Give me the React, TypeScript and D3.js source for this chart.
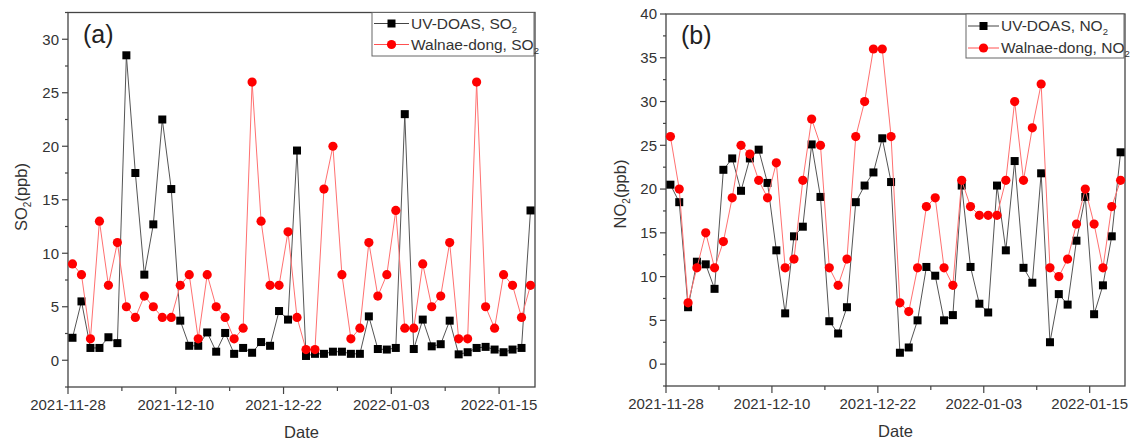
import React from "react";
import * as d3 from "d3";

// ---- Data ----
const startDate = new Date(2021, 10, 28);
const nDays = 52;
const dates: Date[] = Array.from({ length: nDays }, (_, i) => new Date(2021, 10, 28 + i, 12));

const so2UV = [
  2.1, 5.5, 1.15, 1.15, 2.15, 1.6, 28.5, 17.5, 8.0, 12.7, 22.5, 16.0, 3.7, 1.35, 1.35, 2.6, 0.8, 2.55, 0.6, 1.15,
  0.7, 1.7, 1.35, 4.6, 3.8, 19.6, 0.4, 0.6, 0.6, 0.8, 0.8, 0.6, 0.6, 4.1, 1.05, 1.0, 1.15, 23.0, 1.05, 3.8,
  1.3, 1.5, 3.7, 0.55, 0.75, 1.15, 1.25, 1.0, 0.75, 1.0, 1.15, 14.0,
];
const so2Walnae = [
  9, 8, 2, 13, 7, 11, 5, 4, 6, 5, 4, 4, 7, 8, 2, 8, 5, 4, 2, 3,
  26, 13, 7, 7, 12, 4, 1, 1, 16, 20, 8, 2, 3, 11, 6, 8, 14, 3, 3, 9,
  5, 6, 11, 2, 2, 26, 5, 3, 8, 7, 4, 7,
];
const no2UV = [
  20.5, 18.5, 6.5, 11.7, 11.4, 8.6, 22.2, 23.5, 19.8, 23.5, 24.5, 20.7, 13.0, 5.8, 14.6, 15.7, 25.1, 19.1, 4.9, 3.5,
  6.5, 18.5, 20.4, 21.9, 25.8, 20.8, 1.3, 1.9, 5.0, 11.1, 10.1, 5.0, 5.6, 20.4, 11.1, 6.9, 5.9, 20.4, 13.0, 23.2,
  11.0, 9.3, 21.8, 2.5, 8.0, 6.8, 14.1, 19.1, 5.7, 9.0, 14.6, 24.2,
];
const no2Walnae = [
  26, 20, 7, 11, 15, 11, 14, 19, 25, 24, 21, 19, 23, 11, 12, 21, 28, 25, 11, 9,
  12, 26, 30, 36, 36, 26, 7, 6, 11, 18, 19, 11, 9, 21, 18, 17, 17, 17, 21, 30,
  21, 27, 32, 11, 10, 12, 16, 20, 16, 11, 18, 21,
];

const xTickLabels = ["2021-11-28", "2021-12-10", "2021-12-22", "2022-01-03", "2022-01-15"];
const so2Ticks = [0, 5, 10, 15, 20, 25, 30];
const no2Ticks = [0, 5, 10, 15, 20, 25, 30, 35, 40];

const FONT = "'Liberation Sans', Arial, sans-serif";
const TXT = "#333";

type PanelProps = {
  left: number; right: number; top: number; bottom: number;
  yDomain: [number, number]; yTicks: number[];
  uv: number[]; wal: number[];
  species: string; tag: string;
  legendBox: { x0: number; x1: number; y0: number; y1: number; row1: number; row2: number; lineX0: number; lineX1: number; textX: number };
  yTitleX: number; yTitleY: number;
};

function Panel(p: PanelProps) {
  const parse = d3.timeParse("%Y-%m-%d");
  const x = d3.scaleTime().domain([startDate, new Date(2022, 0, 19)]).range([p.left, p.right]);
  const y = d3.scaleLinear().domain(p.yDomain).range([p.bottom, p.top]);
  const majorX = xTickLabels.map((s) => parse(s) as Date);
  const minorX = majorX.map((d) => d3.timeDay.offset(d, 6)).filter((d) => x(d) < p.right);
  const minorY: number[] = [];
  for (let v = p.yDomain[0]; v <= p.yDomain[1] + 1e-9; v += 2.5) {
    if (!p.yTicks.includes(v)) minorY.push(v);
  }
  const fmt = d3.timeFormat("%Y-%m-%d");
  const line = d3.line<number>().x((_, i) => x(dates[i])).y((v) => y(v));
  const lb = p.legendBox;
  const markerX = (lb.lineX0 + lb.lineX1) / 2;
  return (
    <g>
      {/* frame */}
      <rect x={p.left} y={p.top} width={p.right - p.left} height={p.bottom - p.top} fill="none" stroke="#444" strokeWidth={1.3} />
      {/* x ticks */}
      {majorX.map((d, i) => (
        <g key={"mx" + i}>
          <line x1={x(d)} x2={x(d)} y1={p.bottom} y2={p.bottom + 7} stroke="#444" strokeWidth={1.2} />
          <text x={x(d)} y={p.bottom + 23} textAnchor="middle" fontSize={15} fill={TXT} fontFamily={FONT}>{fmt(d)}</text>
        </g>
      ))}
      {minorX.map((d, i) => (
        <line key={"nx" + i} x1={x(d)} x2={x(d)} y1={p.bottom} y2={p.bottom + 4} stroke="#444" strokeWidth={1.2} />
      ))}
      {/* y ticks */}
      {p.yTicks.map((v) => (
        <g key={"my" + v}>
          <line x1={p.left - 6} x2={p.left} y1={y(v)} y2={y(v)} stroke="#444" strokeWidth={1.2} />
          <text x={p.left - 9} y={y(v)} dy="0.35em" textAnchor="end" fontSize={15} fill={TXT} fontFamily={FONT}>{v}</text>
        </g>
      ))}
      {minorY.map((v) => (
        <line key={"ny" + v} x1={p.left - 3} x2={p.left} y1={y(v)} y2={y(v)} stroke="#444" strokeWidth={1.2} />
      ))}
      {/* titles */}
      <text x={(p.left + p.right) / 2} y={p.bottom + 51} textAnchor="middle" fontSize={16.5} fill={TXT} fontFamily={FONT}>Date</text>
      <text transform={`translate(${p.yTitleX},${p.yTitleY}) rotate(-90)`} textAnchor="middle" fontSize={16.5} fill={TXT} fontFamily={FONT}>
        {p.species}<tspan fontSize={10} dy={4}>2</tspan><tspan dy={-4}>(ppb)</tspan>
      </text>
      <text x={p.left + 15} y={p.top + 30} fontSize={25} fill="#222" fontFamily={FONT}>{p.tag}</text>
      {/* series */}
      <path d={line(p.uv) || ""} fill="none" stroke="#555" strokeWidth={1} />
      {p.uv.map((v, i) => (
        <rect key={"u" + i} x={x(dates[i]) - 4} y={y(v) - 4} width={8} height={8} fill="#000" />
      ))}
      <path d={line(p.wal) || ""} fill="none" stroke="#ff7070" strokeWidth={1} />
      {p.wal.map((v, i) => (
        <circle key={"w" + i} cx={x(dates[i])} cy={y(v)} r={4.6} fill="#f00" />
      ))}
      {/* legend */}
      <rect x={lb.x0} y={lb.y0} width={lb.x1 - lb.x0} height={lb.y1 - lb.y0} fill="#fff" stroke="#666" strokeWidth={1} />
      <line x1={lb.lineX0} x2={lb.lineX1} y1={lb.row1} y2={lb.row1} stroke="#444" strokeWidth={1} />
      <rect x={markerX - 4} y={lb.row1 - 4} width={8} height={8} fill="#000" />
      <text x={lb.textX} y={lb.row1} dy="0.35em" fontSize={15.5} fill={TXT} fontFamily={FONT}>
        UV-DOAS, {p.species}<tspan fontSize={9.5} dy={4}>2</tspan>
      </text>
      <line x1={lb.lineX0} x2={lb.lineX1} y1={lb.row2} y2={lb.row2} stroke="#ff5050" strokeWidth={1} />
      <circle cx={markerX} cy={lb.row2} r={4.6} fill="#f00" />
      <text x={lb.textX} y={lb.row2} dy="0.35em" fontSize={15.5} fill={TXT} fontFamily={FONT}>
        Walnae-dong, {p.species}<tspan fontSize={9.5} dy={4}>2</tspan>
      </text>
    </g>
  );
}

export default function App() {
  return (
    <svg width={1131} height={444} style={{ position: "absolute", left: 0, top: 0, background: "#fff" }}>
      <Panel
        left={68} right={535} top={12.5} bottom={387}
        yDomain={[-2.5, 32.5]} yTicks={so2Ticks}
        uv={so2UV} wal={so2Walnae} species="SO" tag="(a)"
        legendBox={{ x0: 372, x1: 534, y0: 12.5, y1: 56, row1: 23.5, row2: 44.5, lineX0: 374, lineX1: 409, textX: 411 }}
        yTitleX={27} yTitleY={197}
      />
      <Panel
        left={666} right={1125} top={14} bottom={386}
        yDomain={[-2.5, 40]} yTicks={no2Ticks}
        uv={no2UV} wal={no2Walnae} species="NO" tag="(b)"
        legendBox={{ x0: 966, x1: 1124, y0: 14, y1: 58, row1: 26, row2: 48, lineX0: 968, lineX1: 999, textX: 1001 }}
        yTitleX={626} yTitleY={194}
      />
    </svg>
  );
}
